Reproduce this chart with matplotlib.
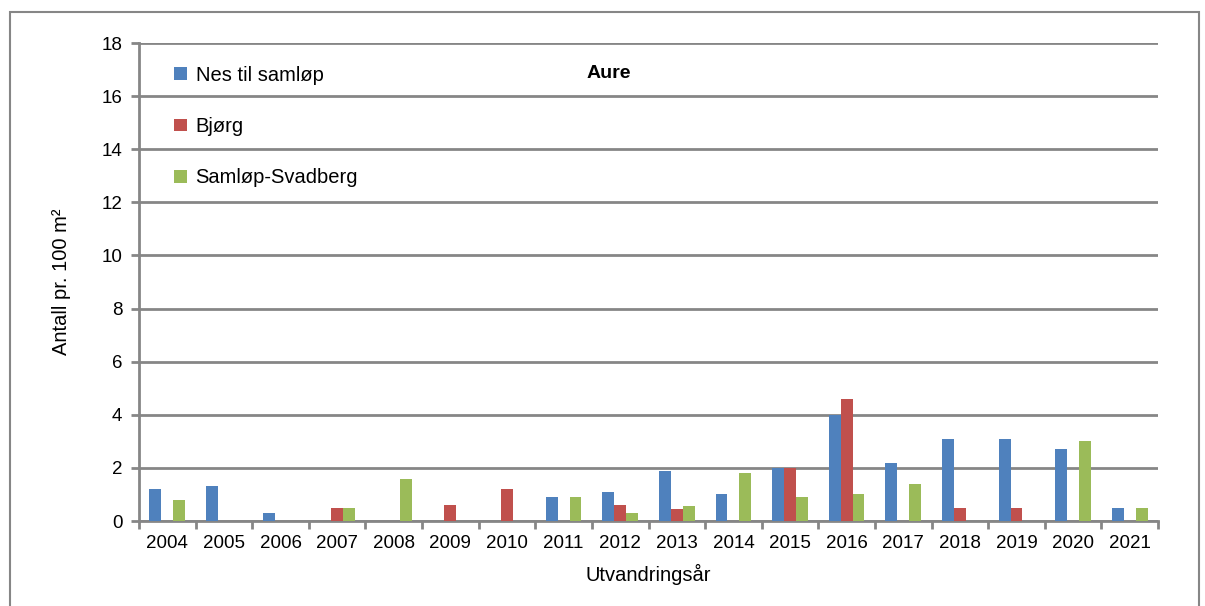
import matplotlib
matplotlib.use('Agg')
import numpy as np
import matplotlib.pyplot as plt
from matplotlib.patches import Rectangle

years = ['2004', '2005', '2006', '2007', '2008', '2009', '2010', '2011', '2012',
         '2013', '2014', '2015', '2016', '2017', '2018', '2019', '2020', '2021']
nes = [1.2, 1.3, 0.3, 0, 0, 0, 0, 0.9, 1.1, 1.9, 1.0, 2.0, 4.0, 2.2, 3.1, 3.1, 2.7, 0.5]
bjorg = [0, 0, 0, 0.5, 0, 0.6, 1.2, 0, 0.6, 0.45, 0, 2.0, 4.6, 0, 0.5, 0.5, 0, 0]
svadberg = [0.8, 0, 0, 0.5, 1.6, 0, 0, 0.9, 0.3, 0.55, 1.8, 0.9, 1.0, 1.4, 0, 0, 3.0, 0.5]
series = [('Nes til samløp', nes, '#4f81bd'),
          ('Bjørg', bjorg, '#c0504d'),
          ('Samløp-Svadberg', svadberg, '#9bbb59')]

GRID = '#868686'
plt.rcParams['font.family'] = ['Liberation Sans', 'DejaVu Sans']

fig = plt.figure(figsize=(12.05, 6.06), dpi=100)
ax = fig.add_axes([139 / 1205, 1 - 521 / 606, (1158 - 139) / 1205, (521 - 43) / 606])

x = np.arange(len(years))
w = 0.21
for i, (name, vals, col) in enumerate(series):
    ax.bar(x + (i - 1) * w, vals, width=w, color=col, label=name, zorder=3)

ax.set_xlim(-0.5, len(years) - 0.5)
ax.set_ylim(0, 18)
ax.set_yticks(range(0, 19, 2))
ax.set_xticks(x)
ax.set_xticklabels(years)
ax.set_xticks(np.arange(-0.5, len(years), 1), minor=True)
ax.tick_params(axis='x', which='major', length=0, pad=10, labelsize=13.5)
ax.tick_params(axis='x', which='minor', length=6, width=2, color=GRID, direction='out')
ax.tick_params(axis='y', length=6, width=2, color=GRID, labelsize=13.5, pad=6)
ax.yaxis.grid(True, color=GRID, linewidth=2, zorder=0)
ax.set_axisbelow(True)
for s in ['top', 'right']:
    ax.spines[s].set_visible(False)
for s in ['left', 'bottom']:
    ax.spines[s].set_color(GRID)
    ax.spines[s].set_linewidth(2)

ax.set_xlabel('Utvandringsår', fontsize=14.5, labelpad=9)
ax.set_ylabel('Antall pr. 100 m²', fontsize=14.5, labelpad=22)
ax.text(0.461, 0.955, 'Aure', transform=ax.transAxes, ha='center', va='top',
        fontsize=14, fontweight='bold')

ax.legend(loc='upper left', bbox_to_anchor=(0.017, 0.99), frameon=False,
          fontsize=14.5, handlelength=0.6, handleheight=0.6, handletextpad=0.45,
          labelspacing=1.6)

fig.patches.append(Rectangle((10 / 1205, -0.1), (1199 - 10) / 1205, 1.1 - 12 / 606,
                             transform=fig.transFigure, fill=False,
                             edgecolor=GRID, linewidth=1.5))

fig.savefig('out.png', dpi=100, facecolor='white')
